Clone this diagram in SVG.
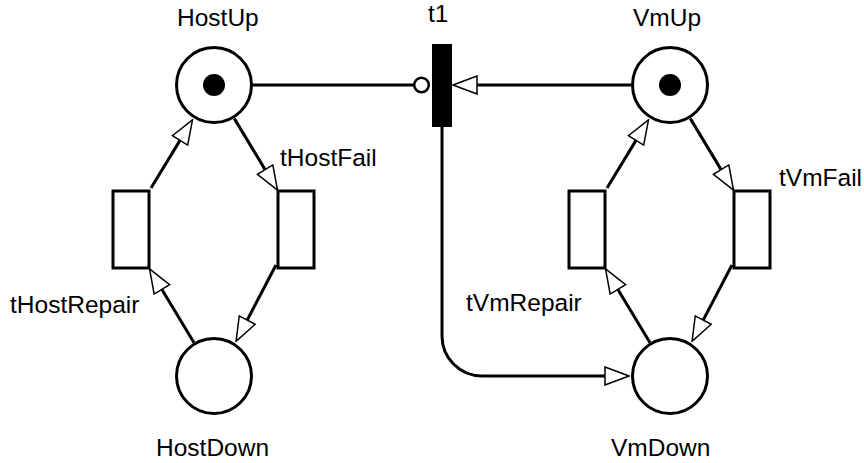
<svg xmlns="http://www.w3.org/2000/svg" width="864" height="463" viewBox="0 0 864 463">
<style>
.place{fill:#fff;stroke:#000;stroke-width:3}
.trans{fill:#fff;stroke:#000;stroke-width:3}
.token{fill:#000}
.lbl{font-family:"Liberation Sans",Arial,sans-serif;font-size:24.5px;fill:#000}
.arc{fill:none;stroke:#000;stroke-width:3}
</style>
<defs>
<marker id="arr" viewBox="0 0 26 20" refX="1" refY="10" markerWidth="26" markerHeight="20" markerUnits="userSpaceOnUse" orient="auto">
<path d="M1,1 L25,10 L1,19 Z" fill="#fff" stroke="#000" stroke-width="1.5"/>
</marker>
</defs>
<rect width="864" height="463" fill="#fff"/>
<g id="connectors">
<line class="arc" x1="234.2" y1="118.4" x2="265.1" y2="169.6" marker-end="url(#arr)"/>
<line class="arc" x1="276" y1="265" x2="247.2" y2="320.1" marker-end="url(#arr)"/>
<line class="arc" x1="193.9" y1="342.6" x2="161.9" y2="289.4" marker-end="url(#arr)"/>
<line class="arc" x1="151" y1="188" x2="180.0" y2="140.4" marker-end="url(#arr)"/>
<line class="arc" x1="690.2" y1="118.4" x2="721.1" y2="169.6" marker-end="url(#arr)"/>
<line class="arc" x1="732" y1="265" x2="703.2" y2="320.1" marker-end="url(#arr)"/>
<line class="arc" x1="649.9" y1="342.6" x2="617.9" y2="289.4" marker-end="url(#arr)"/>
<line class="arc" x1="607" y1="188" x2="636.0" y2="140.4" marker-end="url(#arr)"/>
<line class="arc" x1="252" y1="85" x2="414" y2="85"/>
<circle cx="421.5" cy="85" r="7.3" fill="#fff" stroke="#000" stroke-width="2.5"/>
<line class="arc" x1="631" y1="85" x2="477" y2="85" marker-end="url(#arr)"/>
<path class="arc" d="M442,127 L442,336 A40,40 0 0 0 482,376 L605,376" marker-end="url(#arr)"/>
</g>
<g id="HostUp">
<circle class="place" cx="214" cy="85" r="37.5"/>
<circle class="token" cx="214" cy="85" r="11"/>
<text class="lbl" x="177" y="26">HostUp</text>
</g>
<g id="HostDown">
<circle class="place" cx="214" cy="376" r="37.5"/>
<text class="lbl" x="156" y="456">HostDown</text>
</g>
<g id="VmUp">
<circle class="place" cx="670" cy="85" r="37.5"/>
<circle class="token" cx="670" cy="85" r="11"/>
<text class="lbl" x="633" y="26">VmUp</text>
</g>
<g id="VmDown">
<circle class="place" cx="670" cy="376" r="37.5"/>
<text class="lbl" x="611" y="456">VmDown</text>
</g>
<g id="tHostRepair">
<rect class="trans" x="113" y="191" width="36" height="77"/>
<text class="lbl" x="10" y="313">tHostRepair</text>
</g>
<g id="tHostFail">
<rect class="trans" x="278" y="191" width="36" height="77"/>
<text class="lbl" x="280" y="166">tHostFail</text>
</g>
<g id="tVmRepair">
<rect class="trans" x="569" y="191" width="36" height="77"/>
<text class="lbl" x="466" y="311">tVmRepair</text>
</g>
<g id="tVmFail">
<rect class="trans" x="734" y="191" width="36" height="77"/>
<text class="lbl" x="779" y="186">tVmFail</text>
</g>
<g id="t1">
<rect x="432" y="44" width="20" height="83" fill="#000"/>
<text class="lbl" x="428" y="22">t1</text>
</g>
</svg>
